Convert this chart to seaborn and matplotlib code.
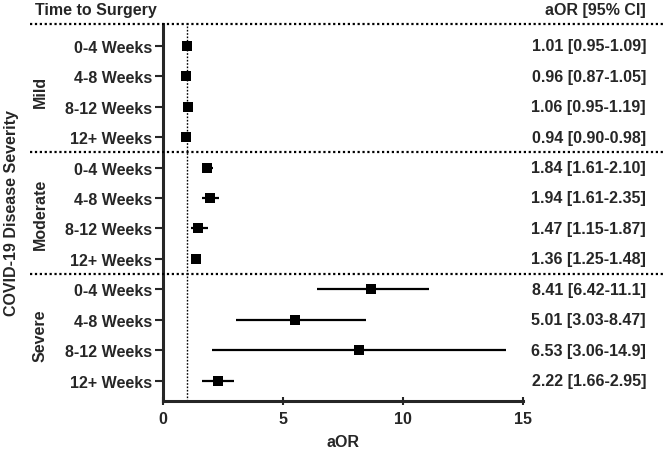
import numpy as np
import pandas as pd
import seaborn as sns
import matplotlib.pyplot as plt
from matplotlib.lines import Line2D
from matplotlib.transforms import blended_transform_factory

# data
severity = ["Mild"] * 4 + ["Moderate"] * 4 + ["Severe"] * 4
timing = ["0-4 Weeks", "4-8 Weeks", "8-12 Weeks", "12+ Weeks"] * 3
aor = [1.01, 0.96, 1.06, 0.94,
       1.84, 1.94, 1.47, 1.36,
       8.65, 5.50, 8.17, 2.29]
ci_low = [0.95, 0.87, 0.95, 0.90,
          1.61, 1.61, 1.15, 1.25,
          6.42, 3.03, 2.05, 1.61]
ci_high = [1.09, 1.05, 1.19, 0.98,
           2.10, 2.35, 1.87, 1.48,
           11.1, 8.47, 14.3, 2.95]
aor_text = ["1.01 [0.95-1.09]", "0.96 [0.87-1.05]", "1.06 [0.95-1.19]", "0.94 [0.90-0.98]",
            "1.84 [1.61-2.10]", "1.94 [1.61-2.35]", "1.47 [1.15-1.87]", "1.36 [1.25-1.48]",
            "8.41 [6.42-11.1]", "5.01 [3.03-8.47]", "6.53 [3.06-14.9]", "2.22 [1.66-2.95]"]
groups = ["Mild", "Moderate", "Severe"]

df = pd.DataFrame({"severity": severity, "time": timing, "aor": aor,
                   "lo": ci_low, "hi": ci_high, "txt": aor_text})
df["row"] = np.arange(len(df))

sns.set_style("ticks")
plt.rcParams['font.family'] = ['Liberation Sans', 'DejaVu Sans']
plt.rcParams['font.weight'] = 'bold'
fs = 11.5

fig = plt.figure(figsize=(6.64, 4.56), dpi=100)
ax = fig.add_axes([0.2455, 0.1184, 0.5422, 0.8268])

# CI whiskers
ax.hlines(df["row"], df["lo"], df["hi"], color="black", lw=1.6, zorder=2)
sns.scatterplot(data=df, x="aor", y="row", marker="s", s=60, color="black",
                edgecolor="black", linewidth=0, ax=ax, zorder=3, legend=False,
                clip_on=False)

# reference line at 1
ax.axvline(1, color="black", lw=1, ls=(0, (1.2, 1.2)), zorder=1)

ax.set_xlim(0, 15)
ax.set_ylim(11.67, -0.715)
ax.set_xticks([0, 5, 10, 15])
ax.set_xticklabels(["0", "5", "10", "15"], fontsize=fs, fontweight="bold")
ax.set_yticks(df["row"])
ax.set_yticklabels(df["time"], fontsize=fs, fontweight="bold")
ax.set_xlabel("aOR", fontsize=fs, fontweight="bold", labelpad=6)
ax.set_ylabel("")
ax.tick_params(axis="y", direction="out", length=6, width=1.5, pad=2)
ax.tick_params(axis="x", direction="inout", length=6, width=1.5, pad=4)
sns.despine(ax=ax)
ax.spines["left"].set_linewidth(2.2)
ax.spines["bottom"].set_linewidth(2.2)

# dotted separators across the whole figure
tr = blended_transform_factory(fig.transFigure, ax.transData)
for yv in [-0.715, 3.5, 7.5]:
    fig.add_artist(Line2D([30 / 664, 1.0], [yv, yv], transform=tr, color="black",
                          lw=1.6, ls=(0, (1, 1.2)), clip_on=False))

# right-hand text column
for r, t in zip(df["row"], df["txt"]):
    fig.text(646 / 664, r, t, transform=tr, ha="right", va="center",
             fontsize=fs, fontweight="bold")

# headers
fig.text(35 / 664, 1 - 11 / 456, "Time to Surgery", ha="left", va="center",
         fontsize=fs, fontweight="bold")
fig.text(646 / 664, 1 - 11 / 456, "aOR [95% CI]", ha="right", va="center",
         fontsize=fs, fontweight="bold")

# group labels
for i, g in enumerate(groups):
    fig.text(40 / 664, 1.5 + 4 * i, g, transform=tr, rotation=90, ha="center",
             va="center", fontsize=fs, fontweight="bold")
fig.text(12 / 664, 1 - 213 / 456, "COVID-19 Disease Severity", rotation=90,
         ha="center", va="center", fontsize=fs, fontweight="bold")

fig.savefig("out.png", dpi=100)
